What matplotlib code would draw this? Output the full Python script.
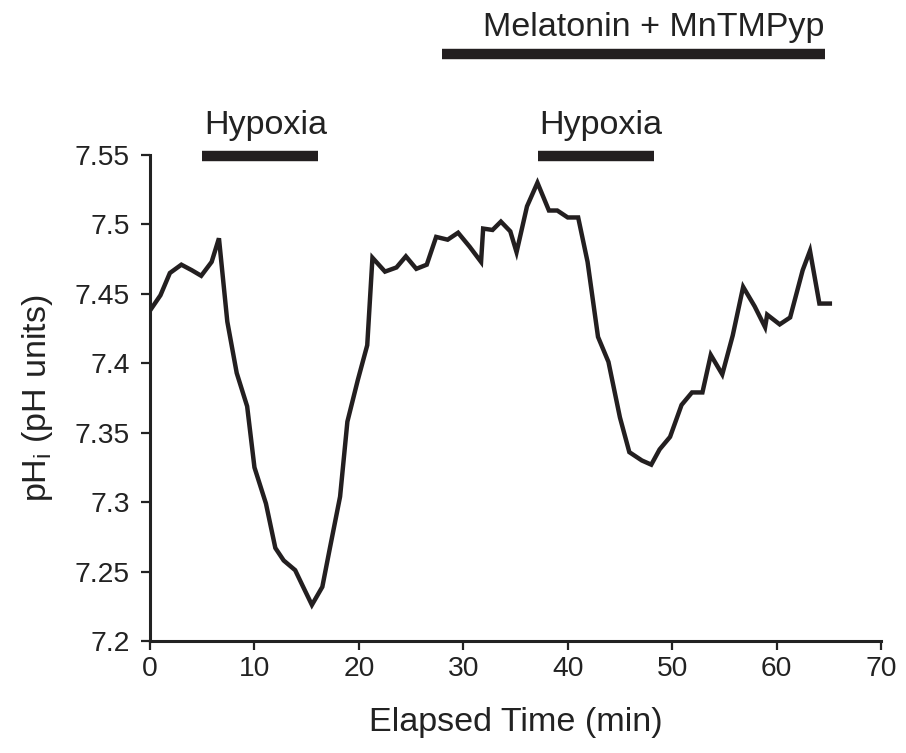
import numpy as np
import matplotlib
matplotlib.use("Agg")
import matplotlib.pyplot as plt

plt.rcParams['font.family'] = ['Liberation Sans', 'DejaVu Sans']
plt.rcParams['mathtext.default'] = 'regular'

# Datos
time_min = [0.0, 1.0, 1.9, 3.0, 4.0, 4.9, 5.9, 6.6, 7.4, 8.3, 9.3, 10.0, 11.1,
            12.0, 12.8, 13.9, 14.6, 15.5, 16.5, 17.2, 18.2, 18.9, 19.9, 20.8,
            21.3, 22.5, 23.6, 24.5, 25.5, 26.5, 27.4, 28.5, 29.5, 30.6, 31.7,
            31.9, 32.8, 33.6, 34.5, 35.1, 36.1, 37.1, 38.2, 39.0, 40.0, 41.0,
            41.9, 42.9, 43.9, 45.0, 45.9, 47.1, 48.0, 48.8, 49.8, 50.9, 51.9,
            52.9, 53.7, 54.8, 55.8, 56.8, 57.9, 58.9, 59.1, 60.3, 61.3, 62.5,
            63.2, 64.1, 65.1]
ph_i = [7.438, 7.449, 7.465, 7.471, 7.467, 7.463, 7.473, 7.490, 7.430, 7.393,
        7.369, 7.325, 7.299, 7.267, 7.258, 7.251, 7.240, 7.226, 7.239, 7.266,
        7.304, 7.358, 7.388, 7.413, 7.476, 7.466, 7.469, 7.477, 7.468, 7.471,
        7.491, 7.489, 7.494, 7.484, 7.473, 7.497, 7.496, 7.502, 7.495, 7.480,
        7.513, 7.530, 7.510, 7.510, 7.505, 7.505, 7.473, 7.419, 7.401, 7.361,
        7.336, 7.330, 7.327, 7.338, 7.347, 7.370, 7.379, 7.379, 7.406, 7.392,
        7.420, 7.455, 7.441, 7.426, 7.435, 7.428, 7.433, 7.467, 7.481, 7.443,
        7.443]

hypoxia_1 = [5.0, 16.1]
hypoxia_2 = [37.2, 48.3]
melatonin = [28.0, 64.6]

xticks = [0, 10, 20, 30, 40, 50, 60, 70]
yticks = [7.2, 7.25, 7.3, 7.35, 7.4, 7.45, 7.5, 7.55]
ytick_labels = ['7.2', '7.25', '7.3', '7.35', '7.4', '7.45', '7.5', '7.55']

fig = plt.figure(figsize=(9.06, 7.53), dpi=100)
ax = fig.add_axes([0.1656, 0.1487, 0.8068, 0.6455])

ax.plot(time_min, ph_i, color='#231f20', linewidth=3.2, solid_joinstyle='miter')

ax.set_xlim(0, 70)
ax.set_ylim(7.2, 7.55)
ax.set_xticks(xticks)
ax.set_yticks(yticks)
ax.set_yticklabels(ytick_labels)

for s in ['top', 'right']:
    ax.spines[s].set_visible(False)
for s in ['left', 'bottom']:
    ax.spines[s].set_linewidth(2.2)
    ax.spines[s].set_color('#222222')

ax.tick_params(axis='both', direction='out', length=6.5, width=1.6,
               color='#222222', labelsize=20.3, labelcolor='#222222')
ax.tick_params(axis='y', pad=8)
ax.tick_params(axis='x', pad=4)

ax.set_xlabel('Elapsed Time (min)', fontsize=24.6, color='#222222', labelpad=18)
ax.set_ylabel('pH$_i$ (pH units)', fontsize=24.6, color='#222222', labelpad=14)

# Barras de tratamiento
bar_kw = dict(color='#231f20', linewidth=7.5, solid_capstyle='butt', clip_on=False)
ax.plot(hypoxia_1, [7.5495, 7.5495], **bar_kw)
ax.plot(hypoxia_2, [7.5495, 7.5495], **bar_kw)
ax.plot(melatonin, [7.6227, 7.6227], **bar_kw)

ax.text(hypoxia_1[0] + 0.2, 7.571, 'Hypoxia', fontsize=24.6, color='#222222',
        va='center', ha='left')
ax.text(hypoxia_2[0] + 0.1, 7.571, 'Hypoxia', fontsize=24.6, color='#222222',
        va='center', ha='left')
ax.text(melatonin[1], 7.642, 'Melatonin + MnTMPyp', fontsize=24.6, color='#222222',
        va='center', ha='right')

plt.savefig('out.png', dpi=100)
